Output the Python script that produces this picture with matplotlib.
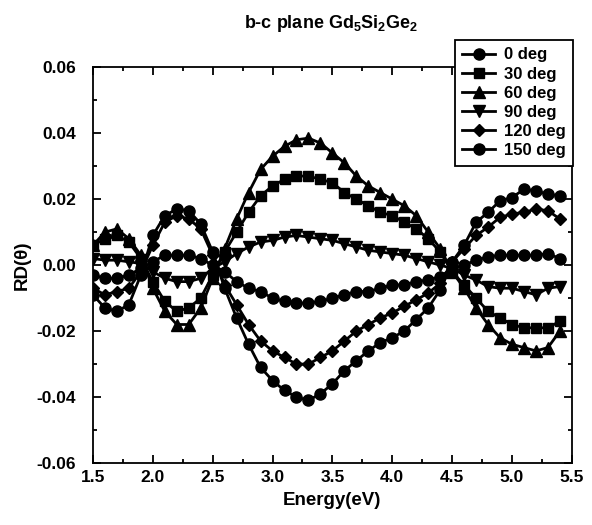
import matplotlib
matplotlib.use("Agg")
import matplotlib.pyplot as plt
from matplotlib.ticker import MultipleLocator, FormatStrFormatter

plt.rcParams['font.family'] = ['Liberation Sans', 'DejaVu Sans']
plt.rcParams['font.weight'] = 'bold'
plt.rcParams['mathtext.fontset'] = 'custom'
plt.rcParams['mathtext.rm'] = 'Liberation Sans:bold'
plt.rcParams['mathtext.default'] = 'rm'

energy = [1.5, 1.6, 1.7, 1.8, 1.9, 2.0, 2.1, 2.2, 2.3, 2.4,
          2.5, 2.6, 2.7, 2.8, 2.9, 3.0, 3.1, 3.2, 3.3, 3.4,
          3.5, 3.6, 3.7, 3.8, 3.9, 4.0, 4.1, 4.2, 4.3, 4.4,
          4.5, 4.6, 4.7, 4.8, 4.9, 5.0, 5.1, 5.2, 5.3, 5.4]

rd_0 = [-0.003, -0.004, -0.004, -0.003, -0.001, 0.001, 0.003, 0.003, 0.003, 0.002,
        0.000, -0.002, -0.005, -0.007, -0.008, -0.010, -0.011, -0.0115, -0.0115, -0.011,
        -0.010, -0.009, -0.008, -0.008, -0.007, -0.006, -0.006, -0.005, -0.0045, -0.0035,
        -0.001, 0.000, 0.0015, 0.0025, 0.003, 0.003, 0.003, 0.003, 0.0035, 0.002]
rd_30 = [0.006, 0.008, 0.009, 0.007, 0.002, -0.005, -0.011, -0.014, -0.013, -0.010,
         -0.003, 0.004, 0.010, 0.016, 0.021, 0.024, 0.026, 0.027, 0.027, 0.026,
         0.025, 0.022, 0.020, 0.018, 0.016, 0.015, 0.013, 0.011, 0.008, 0.004,
         -0.002, -0.006, -0.010, -0.014, -0.016, -0.018, -0.019, -0.019, -0.019, -0.017]
rd_60 = [0.006, 0.010, 0.011, 0.008, 0.003, -0.007, -0.014, -0.018, -0.018, -0.013,
         -0.004, 0.005, 0.014, 0.022, 0.029, 0.033, 0.036, 0.038, 0.0385, 0.037,
         0.034, 0.031, 0.027, 0.024, 0.022, 0.020, 0.018, 0.015, 0.010, 0.005,
         -0.002, -0.007, -0.013, -0.018, -0.022, -0.024, -0.025, -0.026, -0.025, -0.020]
rd_90 = [0.002, 0.0015, 0.0015, 0.001, 0.0005, -0.002, -0.004, -0.005, -0.005, -0.004,
         -0.001, 0.001, 0.0035, 0.0055, 0.007, 0.0075, 0.0085, 0.009, 0.0085, 0.008,
         0.0075, 0.0065, 0.0055, 0.0045, 0.004, 0.0035, 0.003, 0.002, 0.001, 0.000,
         -0.001, -0.003, -0.0045, -0.0065, -0.007, -0.007, -0.008, -0.009, -0.007, -0.0065]
rd_120 = [-0.007, -0.009, -0.008, -0.007, -0.002, 0.006, 0.013, 0.015, 0.014, 0.011,
          0.003, -0.006, -0.012, -0.018, -0.023, -0.026, -0.028, -0.030, -0.030, -0.028,
          -0.026, -0.023, -0.020, -0.018, -0.016, -0.0145, -0.0125, -0.0105, -0.0085, -0.0055,
          0.001, 0.005, 0.009, 0.0115, 0.0145, 0.0155, 0.016, 0.017, 0.0165, 0.014]
rd_150 = [-0.009, -0.013, -0.014, -0.012, -0.003, 0.009, 0.015, 0.017, 0.0165, 0.0125,
          0.004, -0.007, -0.016, -0.024, -0.031, -0.035, -0.038, -0.040, -0.041, -0.039,
          -0.036, -0.032, -0.029, -0.026, -0.0235, -0.022, -0.020, -0.0165, -0.013, -0.0075,
          0.001, 0.006, 0.013, 0.016, 0.0195, 0.0205, 0.023, 0.0225, 0.0215, 0.021]

labels = ['0 deg', '30 deg', '60 deg', '90 deg', '120 deg', '150 deg']
series = [rd_0, rd_30, rd_60, rd_90, rd_120, rd_150]
markers = ['o', 's', '^', 'v', 'D', 'o']
msizes = [8, 7.5, 8, 8, 6.5, 8]

fig = plt.figure(figsize=(5.92, 5.25), dpi=100)
ax = fig.add_axes([0.157, 0.118, 0.809, 0.754])

for ys, lab, m, ms in zip(series, labels, markers, msizes):
    ax.plot(energy, ys, color='black', lw=2, marker=m, ms=ms, label=lab)

ax.set_xlim(1.5, 5.5)
ax.set_ylim(-0.06, 0.06)
ax.xaxis.set_major_locator(MultipleLocator(0.5))
ax.xaxis.set_minor_locator(MultipleLocator(0.25))
ax.yaxis.set_major_locator(MultipleLocator(0.02))
ax.yaxis.set_minor_locator(MultipleLocator(0.01))
ax.xaxis.set_major_formatter(FormatStrFormatter('%.1f'))
ax.yaxis.set_major_formatter(FormatStrFormatter('%.2f'))
ax.tick_params(which='both', direction='in', top=True, right=True, width=1.3)
ax.tick_params(which='major', length=6, labelsize=12.5)
ax.tick_params(which='minor', length=3)
ax.tick_params(axis='y', pad=12)
ax.tick_params(axis='x', pad=5)
for sp in ax.spines.values():
    sp.set_linewidth(1.3)

ax.set_xlabel('Energy(eV)', fontsize=13.5, fontweight='bold', labelpad=5)
ax.set_ylabel('RD(θ)', fontsize=13.5, fontweight='bold', labelpad=4)
fig.text(0.56, 0.955, r'b-c plane Gd$_5$Si$_2$Ge$_2$', ha='center', va='center',
         fontsize=13, fontweight='bold')

leg = ax.legend(loc='upper right', bbox_to_anchor=(0.968, 0.924),
                bbox_transform=fig.transFigure, fancybox=False, framealpha=1,
                edgecolor='black', fontsize=12, handlelength=2.0, borderaxespad=0,
                borderpad=0.45, labelspacing=0.25, handletextpad=0.5)
leg.get_frame().set_linewidth(1.3)

fig.savefig('out.png', dpi=100)
